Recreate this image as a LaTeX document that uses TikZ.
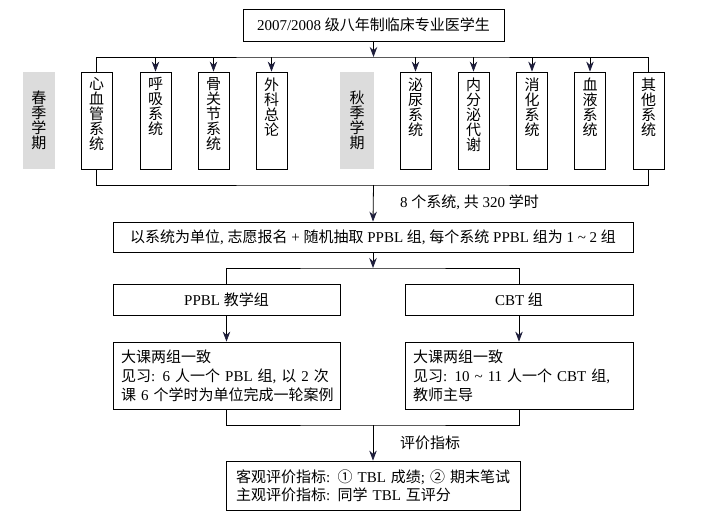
\documentclass[tikz,border=0pt]{standalone}
\usepackage{fontspec}
\setmainfont{Liberation Serif}
\newfontfamily\cjk{Noto Sans CJK SC}
\newcommand\zh[1]{{\cjk #1}}
\usetikzlibrary{arrows.meta}
\definecolor{tipc}{HTML}{1E1E3C}
\definecolor{grayfill}{HTML}{DCDCDC}
\newcommand\vstack[1]{\parbox[c][97pt][t]{31pt}{\centering\vspace*{5.5pt}\fontsize{15}{15}\selectfont\cjk #1}}
\newcommand\gstack[1]{\parbox[c][97pt][c]{32pt}{\centering\fontsize{15}{15}\selectfont\cjk #1}}
\begin{document}
\begin{tikzpicture}[x=1pt,y=-1pt,
  every node/.style={font=\fontsize{15}{17}\selectfont},
  box/.style={draw,line width=0.8pt,inner sep=0pt},
  sysbox/.style={draw,line width=0.8pt,inner sep=0pt},
  graybox/.style={fill=grayfill,inner sep=0pt},
  wire/.style={line width=0.8pt},
  arr/.style={line width=0.8pt,-{Stealth[length=10pt,width=7.5pt,color=tipc]}},
  lbl/.style={anchor=west,inner sep=0pt}]
\useasboundingbox[fill=white] (0,0) rectangle (707,520);

\node[box,minimum width=261pt,minimum height=32pt] (t) at (373.5,25) {2007/2008 \zh{级八年制临床专业医学生}};

\node[graybox] (g1) at (39,120.5) {\gstack{春\\季\\学\\期}};
\node[graybox,minimum width=34pt] (g2) at (357,120.5) {\gstack{秋\\季\\学\\期}};

\node[sysbox] (s1) at (96.5,120.5) {\vstack{心\\血\\管\\系\\统}};
\node[sysbox] (s2) at (155.5,120.5) {\vstack{呼\\吸\\系\\统}};
\node[sysbox] (s3) at (213.5,120.5) {\vstack{骨\\关\\节\\系\\统}};
\node[sysbox] (s4) at (271.5,120.5) {\vstack{外\\科\\总\\论}};
\node[sysbox] (s5) at (415.5,120.5) {\vstack{泌\\尿\\系\\统}};
\node[sysbox] (s6) at (473.5,120.5) {\vstack{内\\分\\泌\\代\\谢}};
\node[sysbox] (s7) at (532,120.5) {\vstack{消\\化\\系\\统}};
\node[sysbox] (s8) at (590,120.5) {\vstack{血\\液\\系\\统}};
\node[sysbox] (s9) at (648.5,120.5) {\vstack{其\\他\\系\\统}};

\coordinate (top) at (373.5,57);
\draw[arr] (t.south) -- (top);
\draw[wire] (s1.north) |- (top) -| (s9.north);
\foreach \s in {s2,s3,s4,s5,s6,s7,s8}{\draw[arr] (\s.north |- top) -- (\s.north);}

\coordinate (bot) at (373.5,185);
\draw[wire] (s1.south) |- (bot) -| (s9.south);

\node[box,minimum width=520pt,minimum height=30pt] (big) at (373,237) {\zh{以系统为单位}, \zh{志愿报名} + \zh{随机抽取} PPBL \zh{组}, \zh{每个系统} PPBL \zh{组为} 1 \textasciitilde\ 2 \zh{组}};
\draw[arr] (bot) -- (big.north);
\node[lbl] (l1) at (400,202) {8 \zh{个系统}, \zh{共} 320 \zh{学时}};

\coordinate (split) at (373,268);
\draw[arr] (big.south) -- (split);
\node[box,minimum width=227pt,minimum height=31pt] (pp) at (226.5,299.5) {PPBL \zh{教学组}};
\node[box,minimum width=228pt,minimum height=31pt] (cb) at (519,299.5) {CBT \zh{组}};
\draw[wire] (pp.north) |- (split) -| (cb.north);

\node[box,minimum height=67pt,text width=211pt,inner xsep=8pt,align=left,font=\fontsize{15}{19}\selectfont] (pd) at (226.5,375.5) {\mbox{\zh{大课两组一致}}\\\mbox{\zh{见习}: 6 \zh{人一个} PBL \zh{组}, \zh{以} 2 \zh{次}}\\\mbox{\zh{课} 6 \zh{个学时为单位完成一轮案例}}};
\node[box,minimum height=67pt,text width=212pt,inner xsep=8pt,align=left,font=\fontsize{15}{19}\selectfont] (cd) at (519,375.5) {\mbox{\zh{大课两组一致}}\\\mbox{\zh{见习}: 10 \textasciitilde\ 11 \zh{人一个} CBT \zh{组},}\\\mbox{\zh{教师主导}}};
\draw[arr] (pp.south) -- (pd.north);
\draw[arr] (cb.south) -- (cd.north);

\coordinate (merge) at (373,425);
\draw[wire] (pd.south) |- (merge) -| (cd.south);
\node[box,minimum height=49pt,text width=274pt,inner xsep=10pt,align=left,font=\fontsize{15}{18}\selectfont] (ev) at (373,485.5) {\mbox{\zh{客观评价指标}: \zh{①} TBL \zh{成绩}; \zh{②} \zh{期末笔试}}\\\mbox{\zh{主观评价指标}: \zh{同学} TBL \zh{互评分}}};
\draw[arr] (merge) -- (ev.north);
\node[lbl] (l2) at (400,443) {\zh{评价指标}};
\end{tikzpicture}
\end{document}
